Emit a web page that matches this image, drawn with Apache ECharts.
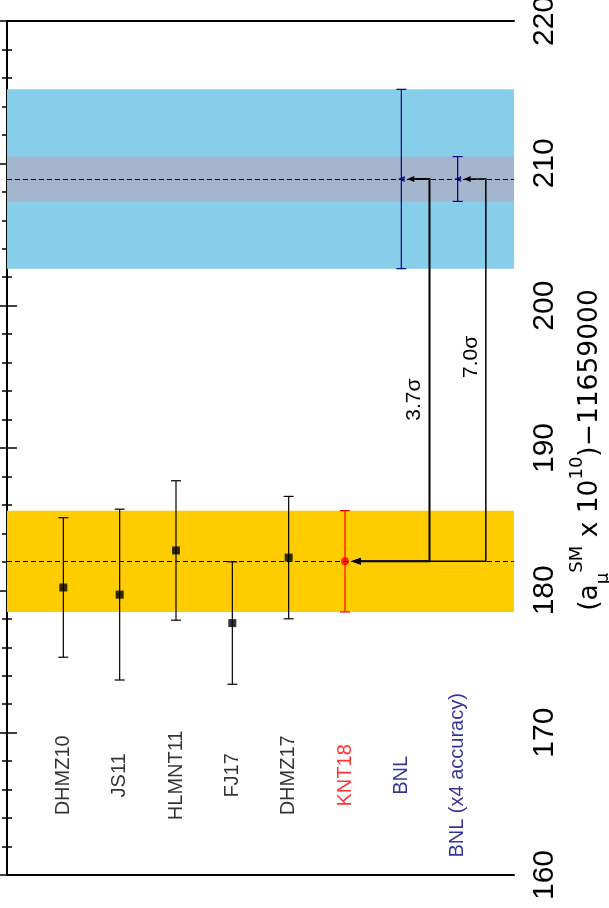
<!DOCTYPE html>
<html><head><meta charset="utf-8">
<script src="https://cdn.jsdelivr.net/npm/echarts@6/dist/echarts.min.js"></script>
<style>html,body{margin:0;padding:0;background:#fff}#c{width:609px;height:908px}</style>
</head><body><div id="c"></div>
<script>
// ---- data ----
const categories = ['DHMZ10','JS11','HLMNT11','FJ17','DHMZ17','KNT18','BNL','BNL (x4 accuracy)'];
const values = [180.2, 179.7, 182.8, 177.7, 182.3, 182.04, 208.9, 208.9];
const errors = [4.9, 6.0, 4.9, 4.3, 4.3, 3.56, 6.3, 1.575];
const labelColors = ['#000000','#000000','#000000','#000000','#000000','#ff0000','#000080','#000080'];
const yTicks = [160, 170, 180, 190, 200, 210, 220];
const sigmaLabels = ['3.7σ', '7.0σ'];
const arrowTargets = [6, 7];   // BNL, BNL (x4 accuracy) -> KNT18
const refIndex = 5;            // KNT18

// ---- styles ----
const labelValue = 167;
const sigmaLabelValue = [193.4, 196.4];
const arrowWidths = [2, 1.5];

const chart = echarts.init(document.getElementById('c'));

const markerData = values.map((v, i) => ({
  value: [i + 1, v],
  symbol: i < 5 ? 'rect' : (i === 5 ? 'circle' : 'triangle'),
  symbolSize: i < 5 ? 8 : (i === 5 ? 8 : [6, 7]),
  symbolRotate: i > 5 ? 90 : 0,
  itemStyle: { color: labelColors[i] }
}));

const labelData = categories.map((c, i) => ({
  value: [i + 1, labelValue],
  label: { color: labelColors[i] }
}));

const axisBase = {
  type: 'value', min: yTicks[0], max: yTicks[yTicks.length - 1], interval: yTicks[1] - yTicks[0],
  axisLine: { show: true, lineStyle: { color: '#000', width: 2 } },
  axisTick: { show: true, inside: true, length: 10, lineStyle: { color: '#000', width: 1.5 } },
  minorTick: { show: true, splitNumber: 5, length: 5, lineStyle: { color: '#000', width: 1.5 } },
  splitLine: { show: false }
};

const option = {
  animation: false,
  backgroundColor: '#fff',
  grid: { left: 7, right: 95, top: 21, bottom: 33, outerBoundsMode: 'none', containLabel: false },
  xAxis: [
    { type: 'value', min: 0, max: 9, position: 'bottom', axisLine: { show: true, onZero: false, lineStyle: { color: '#000', width: 2 } }, axisTick: { show: false }, axisLabel: { show: false }, splitLine: { show: false } },
    { type: 'value', min: 0, max: 9, position: 'top', axisLine: { show: true, onZero: false, lineStyle: { color: '#000', width: 2 } }, axisTick: { show: false }, axisLabel: { show: false }, splitLine: { show: false } }
  ],
  yAxis: [
    Object.assign({}, axisBase, {
      position: 'right',
      axisLabel: { show: true, rotate: 90, margin: 16, color: '#000', fontSize: 30, fontFamily: 'Liberation Sans Narrow, Liberation Sans, Arial, sans-serif',
        formatter: v => (yTicks.indexOf(v) >= 0 ? String(v) : '') },
      name: '{m|(a}{sub|μ}{sup|SM}{m| x 10}{sup|10}{m|)−11659000}',
      nameLocation: 'middle', nameRotate: 90, nameGap: 52,
      nameTextStyle: {
        color: '#000',
        padding: [0, 4, 0, 0],
        rich: {
          m: { fontSize: 26.5, fontFamily: 'DejaVu Sans', color: '#000', lineHeight: 44 },
          sup: { fontSize: 18, fontFamily: 'DejaVu Sans', color: '#000', lineHeight: 16, verticalAlign: 'top' },
          sub: { fontSize: 18, fontFamily: 'DejaVu Sans', color: '#000', lineHeight: 26, verticalAlign: 'bottom' }
        }
      }
    }),
    Object.assign({}, axisBase, { position: 'left', axisLabel: { show: false } })
  ],
  series: [
    {
      name: 'bands', type: 'line', data: [], xAxisIndex: 0, yAxisIndex: 0, z: 1,
      markArea: {
        silent: true,
        data: [
          [{ yAxis: values[5] - errors[5], itemStyle: { color: '#ffcc00', opacity: 1 } }, { yAxis: values[5] + errors[5] }],
          [{ yAxis: values[6] - errors[6], itemStyle: { color: '#87ceeb', opacity: 1 } }, { yAxis: values[6] + errors[6] }],
          [{ yAxis: values[7] - errors[7], itemStyle: { color: '#a2b5cd', opacity: 1 } }, { yAxis: values[7] + errors[7] }]
        ]
      },
      markLine: {
        silent: true, symbol: 'none', label: { show: false },
        lineStyle: { color: '#000', width: 1, type: [5, 3] },
        data: [{ yAxis: values[5] }, { yAxis: values[6] }]
      }
    },
    {
      name: 'errors', type: 'custom', z: 3,
      data: values.map((v, i) => [i + 1, v, errors[i], i]),
      renderItem: (params, api) => {
        const x = api.value(0), v = api.value(1), e = api.value(2), idx = api.value(3);
        const top = api.coord([x, v + e]), bot = api.coord([x, v - e]);
        const col = labelColors[idx];
        const st = { stroke: col, lineWidth: 1.2 };
        return { type: 'group', children: [
          { type: 'line', shape: { x1: top[0], y1: top[1], x2: bot[0], y2: bot[1] }, style: st },
          { type: 'line', shape: { x1: top[0] - 5, y1: top[1], x2: top[0] + 5, y2: top[1] }, style: st },
          { type: 'line', shape: { x1: bot[0] - 5, y1: bot[1], x2: bot[0] + 5, y2: bot[1] }, style: st }
        ] };
      }
    },
    {
      name: 'points', type: 'scatter', z: 4, data: markerData
    },
    {
      name: 'arrows', type: 'custom', z: 5,
      data: arrowTargets.map((t, j) => [t + 1, values[t], refIndex + 1, values[refIndex], j]),
      renderItem: (params, api) => {
        const tx = api.value(0), tv = api.value(1), kx = api.value(2), kv = api.value(3), j = api.value(4);
        const cx = api.coord([tx + 0.5, tv])[0];
        const topY = api.coord([tx, tv])[1];
        const botY = api.coord([kx, kv])[1];
        const tipTop = api.coord([tx, tv])[0] + 6;
        const tipBot = api.coord([kx, kv])[0] + 6;
        const hlT = 7, hwT = 3, hlB = 10, hwB = 3.5;
        const w = arrowWidths[j];
        const ly = api.coord([0, sigmaLabelValue[j]])[1];
        return { type: 'group', children: [
          { type: 'polyline', shape: { points: [[tipTop + hlT - 1, topY], [cx, topY], [cx, botY], [tipBot + hlB - 1, botY]] },
            style: { stroke: '#000', lineWidth: w, fill: null } },
          { type: 'polygon', shape: { points: [[tipTop, topY], [tipTop + hlT, topY - hwT], [tipTop + hlT, topY + hwT]] }, style: { fill: '#000' } },
          { type: 'polygon', shape: { points: [[tipBot, botY], [tipBot + hlB, botY - hwB], [tipBot + hlB, botY + hwB]] }, style: { fill: '#000' } },
          { type: 'text', x: cx - 15, y: ly, rotation: Math.PI / 2,
            style: { text: sigmaLabels[j], fontSize: 21, fontFamily: 'Liberation Sans, Arial, sans-serif', fill: '#000', align: 'center', verticalAlign: 'middle' } }
        ] };
      }
    },
    {
      name: 'labels', type: 'scatter', z: 6, symbolSize: 0, data: labelData,
      label: {
        show: true, position: 'inside', rotate: 90, fontSize: 20,
        fontFamily: 'Liberation Sans, Arial, sans-serif',
        formatter: p => categories[p.dataIndex]
      }
    }
  ]
};
chart.setOption(option);
</script>
</body></html>
